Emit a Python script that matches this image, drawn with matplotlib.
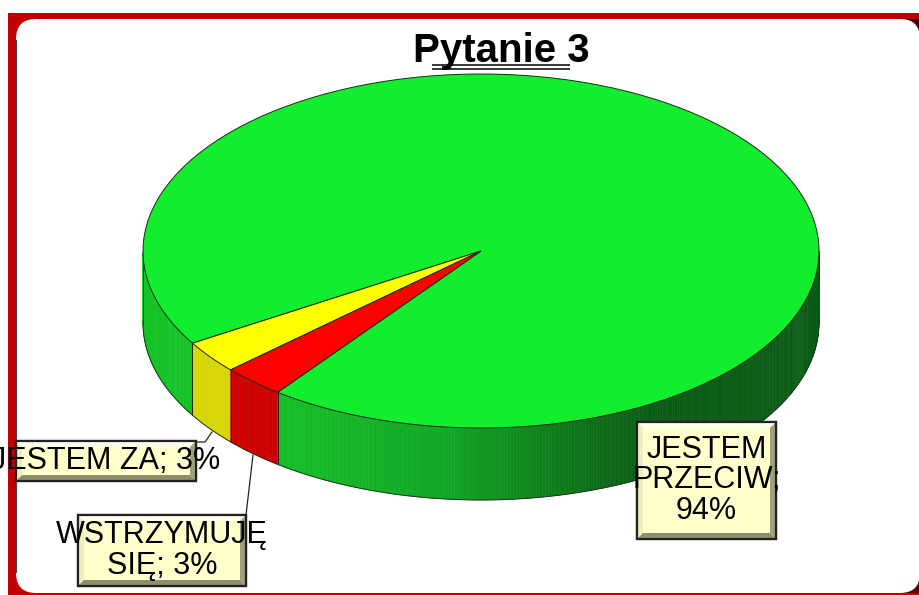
import numpy as np
import matplotlib
matplotlib.use("Agg")
import matplotlib.pyplot as plt
from matplotlib.patches import Polygon, FancyBboxPatch, Rectangle

categories = ["JESTEM PRZECIW", "JESTEM ZA", "WSTRZYMUJĘ SIĘ"]
values = [94, 3, 3]
label_texts = ["JESTEM\nPRZECIW;\n94%", "JESTEM ZA; 3%", "WSTRZYMUJĘ\nSIĘ; 3%"]
title_text = "Pytanie 3"

top_colors = ["#12EE2D", "#FFFF00", "#FF0000"]
side_yellow = "#D6D600"
side_red = "#CC0000"
START = 233.0
DEPTH = 72 / 177
FONT = ["Liberation Sans Narrow", "Liberation Sans"]

W, H = 920, 595
fig = plt.figure(figsize=(W / 100, H / 100), dpi=100, facecolor="white")

# background frame, in pixel coordinates
bg = fig.add_axes([0, 0, 1, 1], zorder=0)
bg.set_xlim(0, W); bg.set_ylim(H, 0); bg.axis("off")
bg.add_patch(Rectangle((8, 13), W - 8, H - 13, fc="#C00000", ec="none"))
bg.add_patch(Rectangle((890, 19), 30, 30, fc="#4A0000", ec="none"))
bg.add_patch(Rectangle((890, 565), 30, 28, fc="#5A0000", ec="none"))
bg.add_patch(FancyBboxPatch((16, 19), W - 16, 574, boxstyle="round,pad=0,rounding_size=20",
                            fc="white", ec="none"))
bg.plot([16, 16], [40, 572], color="#444444", lw=0.8)

# pie
ax = fig.add_axes([143 / W, 1 - 428 / H, 676 / W, 354 / H], zorder=1)


def green_shade(u):
    stops = [-1.0, -0.55, -0.1, 0.25, 0.5, 1.0]
    r = [17, 20, 19, 14, 10, 10]
    g = [196, 190, 165, 120, 92, 90]
    b = [36, 40, 36, 26, 20, 20]
    return (np.interp(u, stops, r) / 255, np.interp(u, stops, g) / 255, np.interp(u, stops, b) / 255)


side_fill = [None, side_yellow, side_red]
shares = np.array(values, dtype=float) / sum(values) * 360
angle = START
bounds = []
for i, s in enumerate(shares):
    a, b = angle, angle + s
    angle = b
    for shift in (0, -360):
        lo, hi = max(a + shift, 180), min(b + shift, 360)
        if hi <= lo:
            continue
        bounds += [lo, hi]
        edges = np.linspace(lo, hi, max(2, int(hi - lo) * 2 + 1))
        for t0, t1 in zip(edges[:-1], edges[1:]):
            ts = np.radians(np.linspace(t0, t1, 4))
            xs, ys = np.cos(ts), np.sin(ts)
            c = side_fill[i] or green_shade(xs.mean())
            ax.add_patch(Polygon(np.r_[np.c_[xs, ys], np.c_[xs[::-1], ys[::-1] - DEPTH]],
                                 fc=c, ec=c, lw=0.4, clip_on=False, zorder=1))

for t in sorted(set(bounds)):
    if 180 < t < 360:
        r = np.radians(t)
        ax.plot([np.cos(r)] * 2, [np.sin(r), np.sin(r) - DEPTH], color="#222222", lw=0.7,
                clip_on=False, zorder=2)
th = np.radians(np.linspace(180, 360, 300))
ax.plot(np.cos(th), np.sin(th) - DEPTH, color="#1c3a1c", lw=0.7, clip_on=False, zorder=2)
for sx in (-1, 1):
    ax.plot([sx, sx], [0, -DEPTH], color="#1c3a1c", lw=0.7, clip_on=False, zorder=2)

wedges, _ = ax.pie(values, colors=top_colors, startangle=START, counterclock=True, radius=1,
                   wedgeprops=dict(edgecolor="#1a2a1a", linewidth=0.7, clip_on=False, zorder=3))
ax.set_aspect("auto")
ax.set_xlim(-1, 1); ax.set_ylim(-1, 1)
ax.axis("off")

# overlay: title and labels
ov = fig.add_axes([0, 0, 1, 1], zorder=2)
ov.set_xlim(0, W); ov.set_ylim(H, 0); ov.axis("off"); ov.patch.set_alpha(0)

ov.text(501, 62, title_text, ha="center", va="baseline", fontsize=29, fontweight="bold",
        family=FONT, color="black")
for yy in (65, 68.5):
    ov.plot([432, 570], [yy, yy], color="black", lw=1.1, solid_capstyle="butt")

ov.plot([196, 205, 212], [442, 442, 432], color="#222222", lw=0.9)
ov.plot([246, 253], [515, 455], color="#222222", lw=0.9)


def box(x0, y0, x1, y1, text, cx=None, size=22, linespacing=1.0):
    b = 6
    ov.add_patch(Rectangle((x0, y0), x1 - x0, y1 - y0, fc="#FFFFCC", ec="#222222", lw=1.6, zorder=5))
    ov.add_patch(Polygon([(x0, y0), (x1, y0), (x1 - b, y0 + b), (x0 + b, y0 + b)], fc="#FFFFEE", ec="none", zorder=6))
    ov.add_patch(Polygon([(x0, y0), (x0 + b, y0 + b), (x0 + b, y1 - b), (x0, y1)], fc="#EDEDBE", ec="none", zorder=6))
    ov.add_patch(Polygon([(x1, y0), (x1, y1), (x1 - b, y1 - b), (x1 - b, y0 + b)], fc="#A0A07C", ec="none", zorder=6))
    ov.add_patch(Polygon([(x0, y1), (x1, y1), (x1 - b, y1 - b), (x0 + b, y1 - b)], fc="#8E8E6E", ec="none", zorder=6))
    ov.add_patch(Rectangle((x0, y0), x1 - x0, y1 - y0, fc="none", ec="#222222", lw=1.6, zorder=7))
    ov.text((x0 + x1) / 2 if cx is None else cx, (y0 + y1) / 2, text, ha="center", va="center", fontsize=size,
            fontweight="normal", family=FONT, color="black", zorder=8, linespacing=linespacing)


box(637, 422, 776, 539, label_texts[0], linespacing=1.02)
box(16, 441, 196, 481, label_texts[1])
box(78, 515, 246, 586, label_texts[2], linespacing=1.02)

fig.savefig("out.png", dpi=100, facecolor="white")
